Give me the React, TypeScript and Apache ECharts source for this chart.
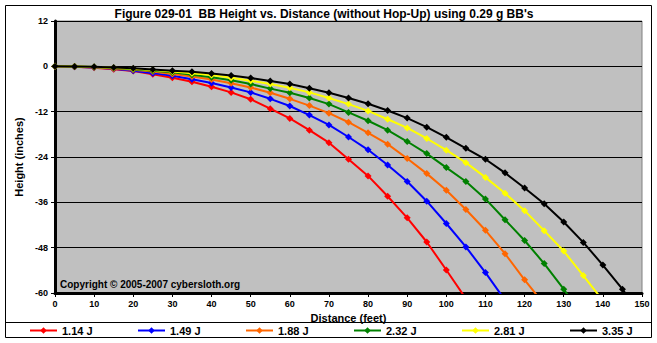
import React, { useEffect, useRef } from "react";
import * as echarts from "echarts";

const DISTANCES = [0, 5, 10, 15, 20, 25, 30, 35, 40, 45, 50, 55, 60, 65, 70, 75, 80, 85, 90, 95, 100, 105, 110, 115, 120, 125, 130, 135, 140, 145, 150];

const SERIES_NAMES = ["1.14 J", "1.49 J", "1.88 J", "2.32 J", "2.81 J", "3.35 J"];
const SERIES_COLORS = ["#FF0000", "#0000FF", "#FF6600", "#008000", "#FFFF00", "#000000"];

const H_114 = [0, -0.1, -0.35, -0.75, -1.25, -2.1, -3.0, -4.1, -5.4, -6.9, -8.7, -11.2, -13.8, -16.9, -20.2, -24.6, -29.0, -34.4, -40.1, -46.5, -53.9, -61.5];
const H_149 = [0, -0.08, -0.3, -0.65, -1.15, -1.8, -2.5, -3.4, -4.4, -5.6, -6.9, -8.6, -10.5, -12.9, -15.5, -18.7, -22.1, -26.1, -30.5, -35.7, -41.6, -47.8, -54.6, -61.9];
const H_188 = [0, -0.07, -0.25, -0.55, -0.9, -1.4, -2.0, -2.7, -3.5, -4.5, -5.6, -7.0, -8.6, -10.4, -12.4, -14.8, -17.6, -20.6, -24.4, -28.4, -32.8, -37.9, -43.4, -49.6, -56.5, -63.0];
const H_232 = [0, -0.07, -0.2, -0.45, -0.75, -1.15, -1.6, -2.2, -2.9, -3.7, -4.7, -5.9, -7.0, -8.4, -10.0, -12.2, -14.4, -16.9, -19.9, -23.1, -26.8, -30.5, -35.1, -40.6, -46.1, -52.2, -59.0, -66.3];
const H_281 = [0, -0.05, -0.2, -0.4, -0.65, -1.0, -1.4, -1.8, -2.3, -3.0, -3.8, -4.7, -5.7, -6.9, -8.4, -10.0, -11.8, -14.0, -16.3, -19.1, -22.2, -25.5, -29.4, -33.6, -38.2, -43.5, -48.9, -55.4, -62.0];
const H_335 = [0, -0.03, -0.12, -0.3, -0.5, -0.85, -1.15, -1.45, -1.9, -2.4, -3.1, -3.9, -4.7, -5.8, -7.0, -8.4, -9.9, -11.7, -13.7, -16.1, -18.8, -21.7, -24.6, -28.2, -32.2, -36.4, -41.2, -46.6, -52.6, -59.0, -66.0];

const HEIGHTS = [H_114, H_149, H_188, H_232, H_281, H_335];

const X_MIN = 0, X_MAX = 150, X_STEP = 10;
const Y_MIN = -60, Y_MAX = 12, Y_STEP = 12;

const TITLE = "Figure 029-01  BB Height vs. Distance (without Hop-Up) using 0.29 g BB's";
const X_TITLE = "Distance (feet)";
const Y_TITLE = "Height (inches)";
const COPYRIGHT = "Copyright \u00A9 2005-2007 cybersloth.org";

const FONT = "'Liberation Sans', Arial, sans-serif";

export default function App() {
  const ref = useRef<HTMLDivElement>(null);
  useEffect(() => {
    document.body.style.margin = "0";
    const chart = echarts.init(ref.current!, null, { renderer: "svg" });
    const series = SERIES_NAMES.map((name, i) => ({
      name,
      type: "line",
      data: HEIGHTS[i].map((h, j) => [DISTANCES[j], h]),
      symbol: "diamond",
      symbolSize: 7,
      showSymbol: true,
      clip: true,
      lineStyle: { color: SERIES_COLORS[i], width: 2 },
      itemStyle: { color: SERIES_COLORS[i], borderWidth: 0 },
      z: 2 + i,
    }));
    const legends = SERIES_NAMES.map((name, i) => ({
      data: [name],
      left: 29 + i * 108,
      top: 325,
      padding: 0,
      itemWidth: 27,
      itemHeight: 8,
      itemGap: 0,
      selectedMode: false,
      textStyle: { fontFamily: FONT, fontWeight: "bold", fontSize: 11, color: "#000" },
    }));
    chart.setOption({
      animation: false,
      backgroundColor: "#FFFFFF",
      textStyle: { fontFamily: FONT },
      title: {
        text: TITLE,
        left: 324,
        textAlign: "center",
        top: 8,
        padding: 0,
        textStyle: { fontFamily: FONT, fontWeight: "bold", fontSize: 12, color: "#000" },
      },
      legend: legends,
      grid: {
        left: 55,
        right: 15,
        top: 21,
        bottom: 50,
        show: true,
        backgroundColor: "#C0C0C0",
        borderColor: "#808080",
        borderWidth: 1,
      },
      xAxis: {
        type: "value",
        min: X_MIN,
        max: X_MAX,
        interval: X_STEP,
        name: X_TITLE,
        nameLocation: "middle",
        nameGap: 17,
        nameTextStyle: { fontFamily: FONT, fontWeight: "bold", fontSize: 11, color: "#000" },
        axisLine: { show: true, onZero: false, lineStyle: { color: "#000", width: 3 } },
        axisTick: { show: true, length: 4, lineStyle: { color: "#000", width: 1 } },
        axisLabel: { fontFamily: FONT, fontWeight: "bold", fontSize: 9, color: "#000", margin: 6 },
        splitLine: { show: false },
      },
      yAxis: {
        type: "value",
        min: Y_MIN,
        max: Y_MAX,
        interval: Y_STEP,
        name: Y_TITLE,
        nameLocation: "middle",
        nameGap: 30,
        nameRotate: 90,
        nameTextStyle: { fontFamily: FONT, fontWeight: "bold", fontSize: 11, color: "#000" },
        axisLine: { show: true, onZero: false, lineStyle: { color: "#000", width: 3 } },
        axisTick: { show: true, length: 4, lineStyle: { color: "#000", width: 1 } },
        axisLabel: { fontFamily: FONT, fontWeight: "bold", fontSize: 9, color: "#000", margin: 7 },
        splitLine: { show: true, lineStyle: { color: "#000", width: 1 } },
      },
      series,
      graphic: [
        {
          type: "rect",
          shape: { x: 5.5, y: 5.5, width: 646, height: 332 },
          style: { fill: "none", stroke: "#000", lineWidth: 1 },
          silent: true,
          z: 0,
        },
        {
          type: "line",
          shape: { x1: 5, y1: 322.5, x2: 652, y2: 322.5 },
          style: { stroke: "#000", lineWidth: 1 },
          silent: true,
        },
        {
          type: "text",
          x: 60,
          y: 284,
          style: {
            text: COPYRIGHT,
            fill: "#000",
            font: "bold 10px " + FONT,
            textVerticalAlign: "middle",
          },
          z: 100,
        },
      ],
    });
    return () => chart.dispose();
  }, []);
  return <div ref={ref} style={{ width: 657, height: 343 }} />;
}
